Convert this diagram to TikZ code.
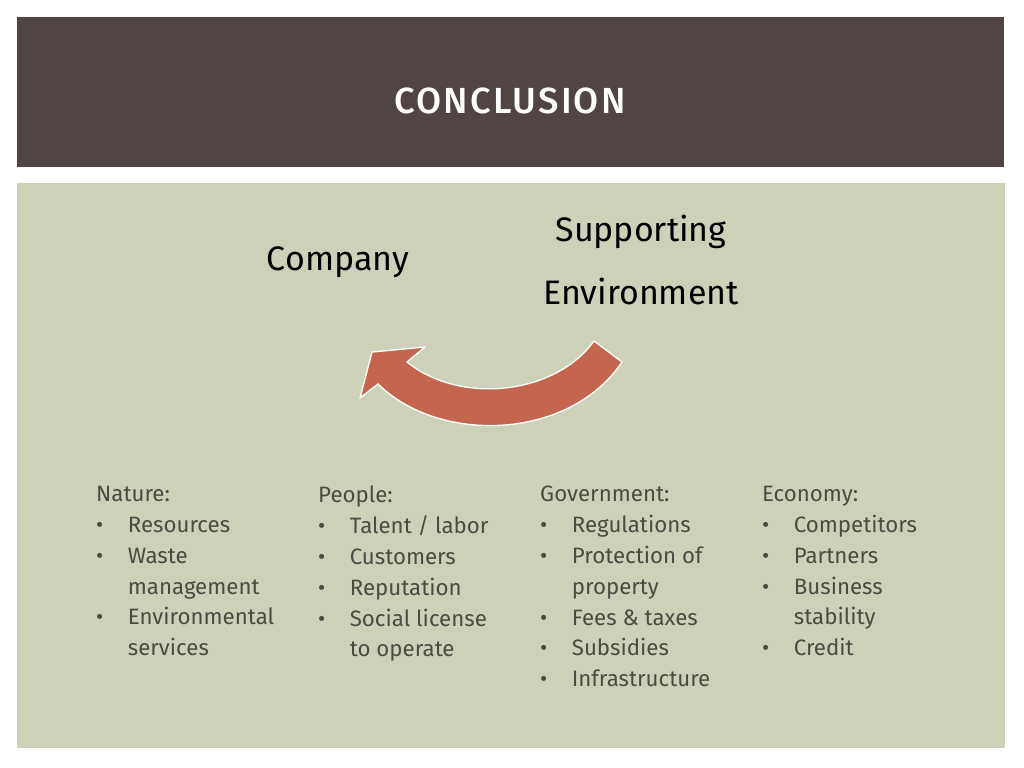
\documentclass[tikz,border=0pt]{standalone}
\usepackage{fontspec}
\setmainfont{Fira Sans}
\newfontfamily\titlefont[LetterSpace=6]{Fira Sans Medium}
\definecolor{barbrown}{HTML}{504542}
\definecolor{sage}{HTML}{CDD1BA}
\definecolor{rust}{HTML}{C4664E}
\definecolor{inkgray}{HTML}{4C4A42}
\tikzset{
  colhead/.style={anchor=north west, text=inkgray, font=\fontsize{19}{26.3}\selectfont, align=left, inner sep=0pt},
  bigword/.style={text=black, font=\fontsize{29}{29}\selectfont}
}
\newcommand{\itm}[1]{\makebox[27pt][l]{\textbullet}#1\\}
\newcommand{\cont}[1]{\hspace*{27pt}#1\\}
\begin{document}
\begin{tikzpicture}[x=0.03cm,y=-0.03cm]
		\useasboundingbox (0,0) rectangle (1024,768);
		\fill[white] (0,0) rectangle (1024,768);
		\fill[barbrown] (17,17) rectangle (1004,167);
		\node[text=white, font=\titlefont\fontsize{31}{31}\selectfont] (title) at (510,101) {CONCLUSION};
		\fill[sage] (17,183) rectangle (1005,748);

		\node[bigword] (company) at (338,262) {Company};
		\node[bigword] (support) at (641,232) {Supporting};
		\node[bigword] (environ) at (641,291) {Environment};

		% curved arrow
		\fill[rust, draw=white!90!sage, line width=1.2pt, line join=round]
			(594,341) .. controls (555,395) and (460,405) .. (407,362)
			-- (425,347) -- (372,352) -- (360,398) -- (378,384)
			.. controls (440,445) and (570,440) .. (622,362) -- cycle;

		\node[colhead] (nature) at (96,486) {Nature:\\ \itm{Resources}\itm{Waste}\cont{management}\itm{Environmental}\cont{services}};
		\node[colhead] (people) at (318,486) {People:\\ \itm{Talent / labor}\itm{Customers}\itm{Reputation}\itm{Social license}\cont{to operate}};
		\node[colhead] (govern) at (540,486) {Government:\\ \itm{Regulations}\itm{Protection of}\cont{property}\itm{Fees \& taxes}\itm{Subsidies}\itm{Infrastructure}};
		\node[colhead] (economy) at (762,486) {Economy:\\ \itm{Competitors}\itm{Partners}\itm{Business}\cont{stability}\itm{Credit}};
\end{tikzpicture}
\end{document}
